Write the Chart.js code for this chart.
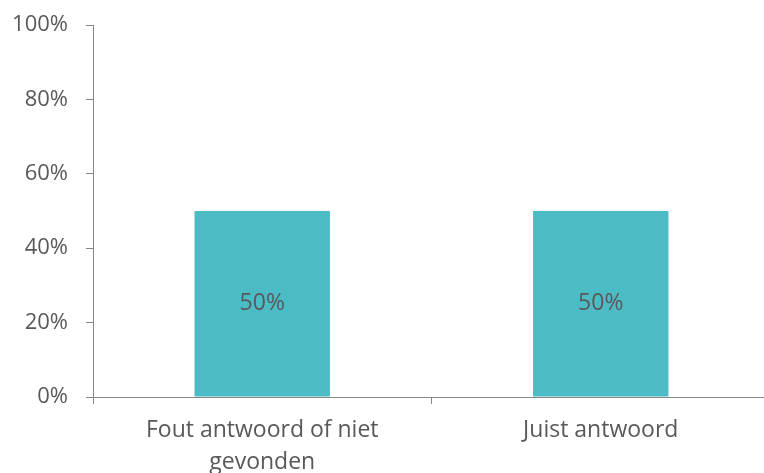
<!DOCTYPE html>
<html>
<head>
<meta charset="utf-8">
<script src="https://cdn.jsdelivr.net/npm/chart.js@4"></script>
<style>
  html, body { margin: 0; padding: 0; background: #fff; overflow: hidden; }
  #wrap { width: 770px; height: 473px; }
</style>
</head>
<body>
<div id="wrap"><canvas id="c"></canvas></div>
<script>
const categories = [['Fout antwoord of niet', 'gevonden'], 'Juist antwoord'];
const values = [50, 50];
const yTicks = [0, 20, 40, 60, 80, 100];

const TEXT = '#595959';
const AXIS = '#868686';
const FONT = "'Open Sans', sans-serif";

// draws the value in the middle of each bar
const barLabels = {
  id: 'barLabels',
  afterDatasetsDraw(chart) {
    const ctx = chart.ctx;
    const meta = chart.getDatasetMeta(0);
    ctx.save();
    ctx.fillStyle = TEXT;
    ctx.font = '23px ' + FONT;
    ctx.textAlign = 'center';
    ctx.textBaseline = 'middle';
    meta.data.forEach((bar, i) => {
      ctx.fillText(values[i] + '%', bar.x, (bar.y + bar.base) / 2);
    });
    ctx.restore();
  }
};

new Chart(document.getElementById('c'), {
  type: 'bar',
  data: {
    labels: categories,
    datasets: [{
      data: values,
      backgroundColor: '#4BBCC6',
      categoryPercentage: 1,
      barPercentage: 0.4,
    }],
  },
  options: {
    responsive: true,
    maintainAspectRatio: false,
    animation: false,
    layout: { padding: { top: 25, right: 0, left: 0, bottom: 0 } },
    plugins: { legend: { display: false }, tooltip: { enabled: false } },
    scales: {
      x: {
        border: { color: AXIS, width: 1 },
        grid: { drawOnChartArea: false, drawTicks: true, tickLength: 7, color: AXIS, offset: true },
        ticks: { color: TEXT, font: { family: FONT, size: 23, lineHeight: 1.38 }, padding: 11, maxRotation: 0 },
        afterFit: s => { s.height = 76; s.paddingLeft = 0; s.paddingRight = 0; },
      },
      y: {
        min: 0,
        max: 100,
        border: { color: AXIS, width: 1 },
        grid: { drawOnChartArea: false, drawTicks: true, tickLength: 7, color: AXIS },
        ticks: {
          stepSize: 20,
          color: TEXT,
          padding: 18,
          font: { family: FONT, size: 22 },
          callback: v => yTicks.includes(v) ? v + '%' : '',
        },
        afterFit: s => { s.width = 93; s.paddingTop = 0; s.paddingBottom = 0; },
      },
    },
  },
  plugins: [barLabels],
});
</script>
</body>
</html>
